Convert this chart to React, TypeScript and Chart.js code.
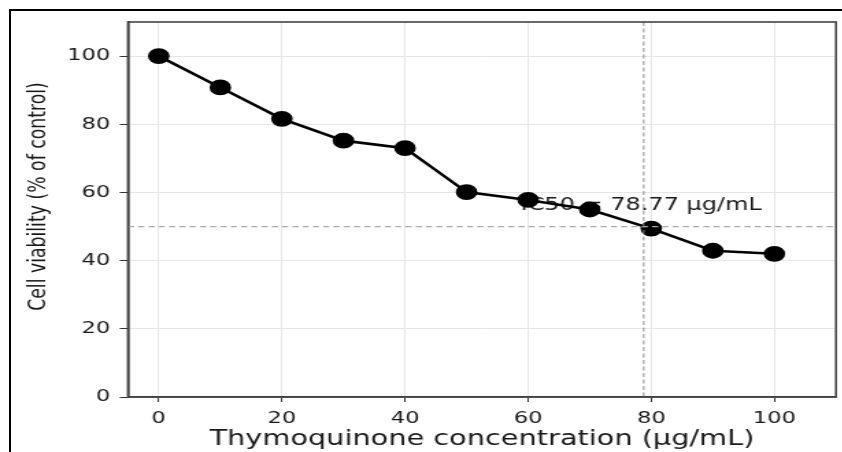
import React, { useEffect, useRef } from "react";
import { Chart, registerables } from "chart.js";

Chart.register(...registerables);

const concentrations = [0, 10, 20, 30, 40, 50, 60, 70, 80, 90, 100];
const viability = [100, 90.8, 81.6, 75.2, 73.0, 60.1, 57.8, 55.0, 49.4, 42.9, 42.0];
const xTicks = [0, 20, 40, 60, 80, 100];
const yTicks = [0, 20, 40, 60, 80, 100];
const ic50 = 78.77;
const ic50Label = "IC50 = 78.77 μg/mL";
const xTitle = "Thymoquinone concentration (μg/mL)";
const yTitle = "Cell viability (% of control)";

const STRETCH = 1.37;
const CW = 615;
const CH = 452;

const overlayPlugin = {
  id: "ic50Overlay",
  beforeDatasetsDraw(chart: any) {
    const { ctx, scales } = chart;
    ctx.save();
    ctx.fillStyle = "#1a1a1a";
    ctx.font = "17.5px 'DejaVu Sans'";
    ctx.textAlign = "left";
    ctx.textBaseline = "alphabetic";
    ctx.fillText(ic50Label, scales.x.getPixelForValue(ic50 - 20), scales.y.getPixelForValue(55));
    ctx.restore();
  },
  afterDatasetsDraw(chart: any) {
    const { ctx, chartArea, scales } = chart;
    const { left, right, top, bottom } = chartArea;
    ctx.save();
    ctx.lineWidth = 1.2;
    ctx.setLineDash([4.5, 3]);
    ctx.strokeStyle = "#aaaaaa";
    const yp = scales.y.getPixelForValue(50);
    ctx.beginPath();
    ctx.moveTo(left, yp);
    ctx.lineTo(right, yp);
    ctx.stroke();
    ctx.strokeStyle = "#8a8a8a";
    ctx.lineWidth = 1;
    ctx.setLineDash([4, 2.5]);
    const xp = scales.x.getPixelForValue(ic50);
    ctx.beginPath();
    ctx.moveTo(xp, top);
    ctx.lineTo(xp, bottom);
    ctx.stroke();
    ctx.setLineDash([]);
    ctx.strokeStyle = "#444";
    ctx.lineWidth = 1.6;
    ctx.strokeRect(left, top, right - left, bottom - top);
    ctx.restore();
  },
  afterDraw(chart: any) {
    const { ctx } = chart;
    ctx.save();
    ctx.translate(28.6, 196.5);
    ctx.rotate(-Math.PI / 2);
    ctx.fillStyle = "#1a1a1a";
    ctx.font = "17.3px 'DejaVu Sans'";
    ctx.textAlign = "center";
    ctx.textBaseline = "middle";
    ctx.fillText(yTitle, 0, 0);
    ctx.restore();
  },
};

export default function App() {
  const ref = useRef<HTMLCanvasElement | null>(null);
  useEffect(() => {
    if (!ref.current) return;
    Chart.defaults.font.family = "'DejaVu Sans'";
    const chart = new Chart(ref.current, {
      type: "line",
      data: {
        labels: concentrations,
        datasets: [
          {
            data: concentrations.map((x, i) => ({ x, y: viability[i] })),
            borderColor: "#000",
            backgroundColor: "#000",
            borderWidth: 2.6,
            pointRadius: 6.6,
            pointHoverRadius: 6.6,
            pointBackgroundColor: "#000",
            pointBorderColor: "#000",
            tension: 0,
            clip: false,
          },
        ],
      },
      plugins: [overlayPlugin],
      options: {
        responsive: false,
        animation: false,
        devicePixelRatio: 1,
        layout: { autoPadding: false, padding: { left: 0, right: 4.8, top: 22, bottom: 0 } },
        plugins: { legend: { display: false }, tooltip: { enabled: false } },
        scales: {
          x: {
            type: "linear",
            min: -5,
            max: 110,
            afterBuildTicks: (axis: any) => {
              axis.ticks = xTicks.map((v) => ({ value: v }));
            },
            afterFit: (scale: any) => {
              scale.height = 55;
              scale.paddingLeft = 0;
              scale.paddingRight = 0;
            },
            grid: { color: "#e6e6e6", lineWidth: 1, drawTicks: true, tickLength: 5, tickColor: "#333" },
            border: { display: true, color: "#333", width: 1.6 },
            ticks: { color: "#1a1a1a", font: { size: 16.5 }, padding: 7, maxRotation: 0 },
            title: { display: true, text: xTitle, color: "#1a1a1a", font: { size: 21 }, padding: { top: 0, bottom: 0 } },
          },
          y: {
            type: "linear",
            min: 0,
            max: 110,
            afterBuildTicks: (axis: any) => {
              axis.ticks = yTicks.map((v) => ({ value: v }));
            },
            afterFit: (scale: any) => {
              scale.width = 93.4;
            },
            grid: { color: "#e6e6e6", lineWidth: 1, drawTicks: true, tickLength: 6, tickColor: "#333" },
            border: { display: true, color: "#333", width: 1.6 },
            ticks: { color: "#1a1a1a", font: { size: 16.5 }, padding: 7 },
            title: { display: false, text: yTitle },
          },
        },
      },
    } as any);
    return () => chart.destroy();
  }, []);

  return (
    <div style={{ position: "absolute", left: 0, top: 0, width: 842, height: 452, overflow: "hidden", background: "#fff" }}>
      <canvas
        ref={ref}
        width={CW}
        height={CH}
        style={{ display: "block", transform: `scaleX(${STRETCH})`, transformOrigin: "0 0" }}
      />
      <div
        style={{
          position: "absolute",
          left: 9,
          top: 9,
          width: 840,
          height: 450,
          borderTop: "2px solid #000",
          borderLeft: "2px solid #000",
          pointerEvents: "none",
        }}
      />
    </div>
  );
}
